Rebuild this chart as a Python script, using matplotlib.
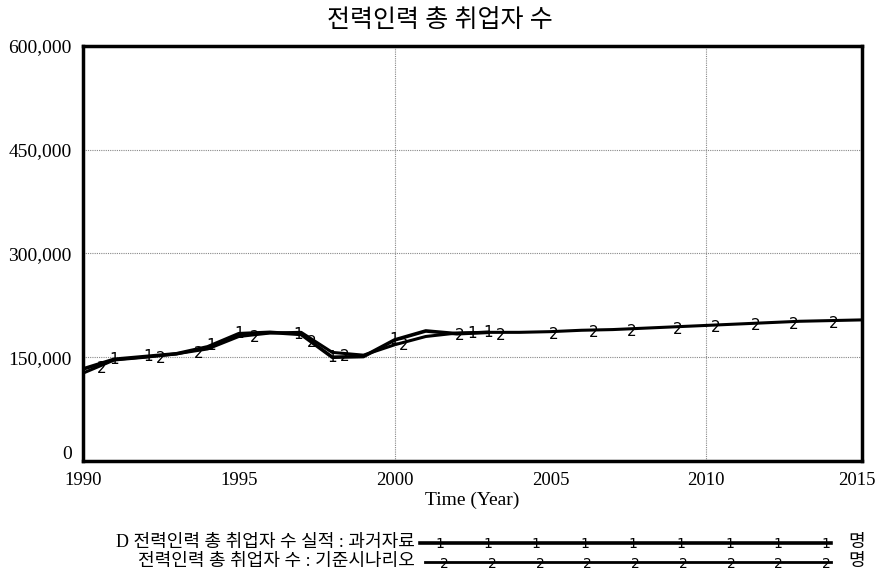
import numpy as np
import matplotlib
matplotlib.use("Agg")
import matplotlib.pyplot as plt
import matplotlib.transforms as mtransforms
from matplotlib.lines import Line2D
from matplotlib.ticker import FuncFormatter

plt.rcParams['font.family'] = ['Liberation Serif', 'Noto Sans CJK KR']

# data
years_hist = [1990, 1991, 1992, 1993, 1994, 1995, 1996, 1997, 1998, 1999,
              2000, 2001, 2002, 2003]
hist = [133000, 147000, 151000, 155000, 165000, 184000, 186000, 183000,
        150000, 151000, 175000, 188000, 184000, 186000]

years_sim = [1990, 1991, 1992, 1993, 1994, 1995, 1996, 1997, 1998, 1999,
             2000, 2001, 2002, 2003, 2004, 2005, 2006, 2007, 2008, 2009,
             2010, 2011, 2012, 2013, 2014, 2015]
sim = [127000, 146000, 150000, 155000, 162000, 180000, 185000, 186000,
       157000, 153000, 168000, 180000, 185000, 186000, 186000, 187000,
       189000, 190000, 192000, 194000, 196000, 198000, 200000, 202000,
       203000, 204000]

hist_label = "D 전력인력 총 취업자 수 실적 : 과거자료"
sim_label = "전력인력 총 취업자 수 : 기준시나리오"
unit = "명"
title = "전력인력 총 취업자 수"

fig = plt.figure(figsize=(8.79, 5.76), dpi=100)
ax = fig.add_axes([0.0944, 0.1997, 0.8863, 0.7204])

ax.plot(years_hist, hist, color='black', lw=2.6, zorder=3)
ax.plot(years_sim, sim, color='black', lw=2.2, zorder=3)

# numbered markers along the lines (Vensim style)
m1 = [1991, 1992.1, 1994.1, 1995, 1996.9, 1998, 2000, 2002.5, 2003.0]
for x in m1:
    ax.text(x, np.interp(x, years_hist, hist), "1", ha='center', va='center',
            fontsize=11, family='DejaVu Sans', zorder=4)
m2 = [1990.6, 1992.5, 1993.7, 1995.5, 1997.35, 1998.4, 2000.3, 2002.1, 2003.4,
      2005.1, 2006.4, 2007.6, 2009.1, 2010.3, 2011.6, 2012.8, 2014.1]
for x in m2:
    ax.text(x, np.interp(x, years_sim, sim) - 4000, "2", ha='center', va='center',
            fontsize=11, family='DejaVu Sans', zorder=4)

ax.set_xlim(1990, 2015)
ax.set_ylim(0, 600000)
ax.set_xticks([1990, 1995, 2000, 2005, 2010, 2015])
ax.set_yticks([0, 150000, 300000, 450000, 600000])
ax.yaxis.set_major_formatter(FuncFormatter(lambda v, p: f"{int(v):,}"))
ax.tick_params(axis='y', length=0, labelsize=14, pad=8)
ax.tick_params(axis='x', length=0, labelsize=13.5, pad=8)
# nudge the last year label so it stays inside the picture
lab = ax.get_xticklabels()[-1]
lab.set_transform(lab.get_transform() + mtransforms.ScaledTranslation(-4 / 72, 0, fig.dpi_scale_trans))
ylab0 = ax.get_yticklabels()[0]
ylab0.set_transform(ylab0.get_transform() + mtransforms.ScaledTranslation(0, 6 / 72, fig.dpi_scale_trans))

for y in [150000, 300000, 450000]:
    ax.axhline(y, color='#888888', lw=0.8, ls=(0, (1, 1)), zorder=1)
for x in [2000, 2010]:
    ax.axvline(x, color='#888888', lw=0.8, ls=(0, (1, 1)), zorder=1)

for s in ax.spines.values():
    s.set_linewidth(2.5)

ax.set_xlabel("Time (Year)", fontsize=14, labelpad=2)
fig.text(0.5, 0.965, title, ha='center', va='center', fontsize=18)

# legend rows at the bottom
rows = [(0.058, hist_label, "1", 2.6, 0.478, 0.945, 9),
        (0.025, sim_label, "2", 2.0, 0.484, 0.945, 9)]
for yy, lab_txt, mk, lw, x0, x1, n in rows:
    fig.text(0.472, yy, lab_txt, ha='right', va='center', fontsize=13)
    fig.add_artist(Line2D([x0, x1], [yy, yy], color='black', lw=lw,
                          transform=fig.transFigure))
    for xx in np.linspace(x0 + 0.022, x1 - 0.005, n):
        fig.text(xx, yy - (0.004 if mk == "2" else 0.002), mk, ha='center', va='center',
                 fontsize=10, family='DejaVu Sans')
    fig.text(0.975, yy, unit, ha='center', va='center', fontsize=13)

fig.savefig("out.png", dpi=100)
